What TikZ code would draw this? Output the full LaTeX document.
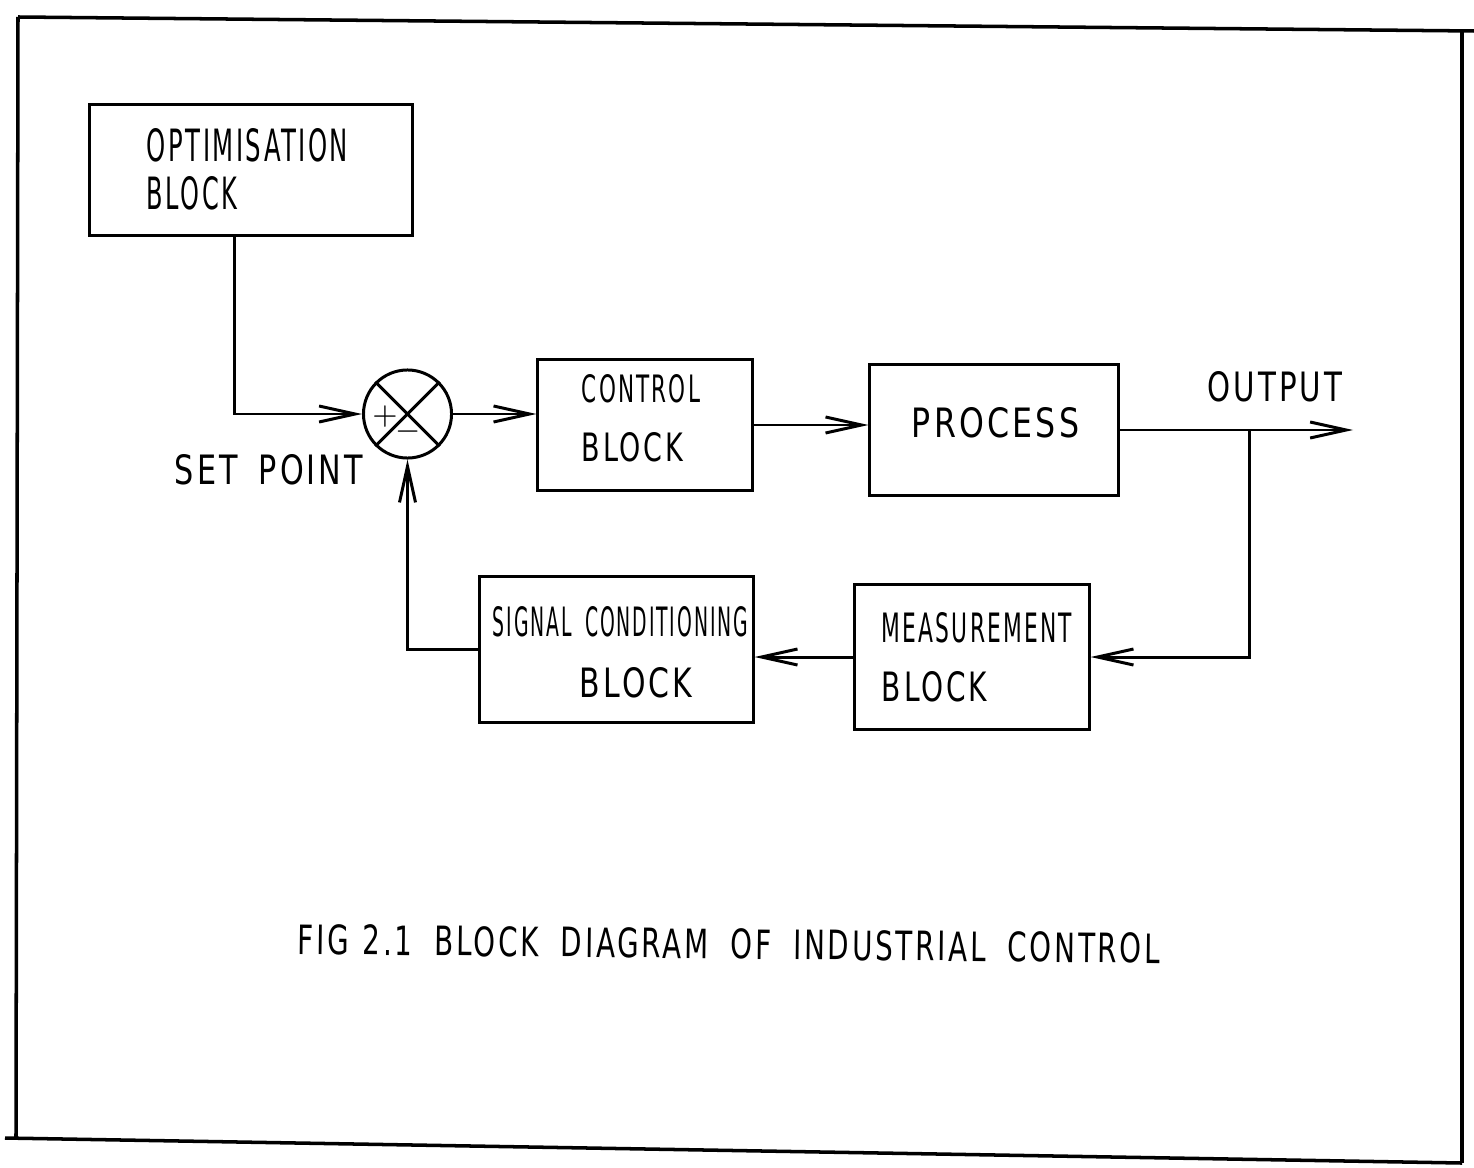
\documentclass[tikz,border=0pt]{standalone}
\usepackage{fontspec}
\setsansfont{DejaVu Sans}[LetterSpace=10]
\renewcommand{\familydefault}{\sfdefault}
\usetikzlibrary{arrows.meta}
\newcommand{\plotlbl}[3][3mm]{\resizebox{#2}{#1}{#3}}
\newcommand{\gap}[1][0.8em]{\hspace{#1}}

\begin{document}
\begin{tikzpicture}[x=0.01cm,y=-0.01cm,line width=0.85pt,
  blk/.style={draw,inner sep=0pt},
  arr/.style={-{Straight Barb[length=3.6mm,width=1.6mm]}}]
\useasboundingbox (0,0) rectangle (1474,1167);

\coordinate (TL) at (18,17);
\coordinate (TR) at (1474,31);
\coordinate (RT) at (1462,30);
\coordinate (RB) at (1462,1163);
\coordinate (BL) at (5,1138);
\coordinate (LB) at (16,1138);

\coordinate (optout) at (234,235);
\coordinate (out) at (1353,430);
\coordinate (tap) at (1249,430);

\draw [line width=1pt] (TL) to (TR);
\draw [line width=1pt] (RT) to (RB);
\draw [line width=1pt] (BL) to (RB);
\draw [line width=1pt] (TL) to (LB);

\node [blk, minimum width=3.22cm, minimum height=1.30cm] (opt) at (251,170) {};
\node [blk, minimum width=2.14cm, minimum height=1.30cm] (ctrl) at (645,425) {};
\node [blk, minimum width=2.48cm, minimum height=1.30cm] (proc) at (994,430) {};
\node [blk, minimum width=2.34cm, minimum height=1.44cm] (meas) at (972,657) {};
\node [blk, minimum width=2.73cm, minimum height=1.45cm] (sig) at (616.5,649.5) {};
\node [blk, circle, minimum size=0.88cm] (sum) at (407.5,414) {};

\draw (sum.north west) to (sum.south east);
\draw (sum.north east) to (sum.south west);

\draw [arr] (optout) |- (sum.west);
\draw [arr] (sum.east) -- (sum.east -| ctrl.west);
\draw [arr] (ctrl.east) -- (ctrl.east -| proc.west);
\draw [arr] (proc.east |- out) -- (out);
\draw [arr] (tap) |- (meas.east);
\draw [arr] (meas.west) -- (meas.west -| sig.east);
\draw [arr] (sig.west) -| (sum.south);

\node (plus) at (385,417) {\fontsize{9.5}{9.5}\selectfont $+$};
\node (minus) at (408,432) {\fontsize{9.5}{9.5}\selectfont $-$};

\node (tOpt) at (247.5,145) {\plotlbl[3.3mm]{2.01cm}{OPTIMISATION}};
\node (tOptB) at (192,193) {\plotlbl[3.3mm]{0.90cm}{BLOCK}};
\node (tCtrl) at (641,389) {\plotlbl[2.8mm]{1.18cm}{CONTROL}};
\node (tCtrlB) at (632.5,447.5) {\plotlbl[2.9mm]{1.01cm}{BLOCK}};
\node (tProc) at (995.5,423) {\plotlbl{1.67cm}{PROCESS}};
\node (tOut) at (1275,387) {\plotlbl{1.34cm}{OUTPUT}};
\node (tMeas) at (977,628) {\plotlbl{1.90cm}{MEASUREMENT}};
\node (tMeasB) at (934.5,687) {\plotlbl{1.05cm}{BLOCK}};
\node (tSig) at (620.5,622) {\plotlbl{2.55cm}{SIGNAL\gap[0.7em]CONDITIONING}};
\node (tSigB) at (636,683) {\plotlbl{1.12cm}{BLOCK}};
\node (tSet) at (269,470) {\plotlbl{1.88cm}{SET\gap[0.7em]POINT}};
\node [rotate=-0.6] (tCap) at (729,944) {\plotlbl{8.62cm}{FIG\gap[0.5em]2.1\gap BLOCK\gap DIAGRAM\gap OF\gap INDUSTRIAL\gap CONTROL}};

\end{tikzpicture}
\end{document}
